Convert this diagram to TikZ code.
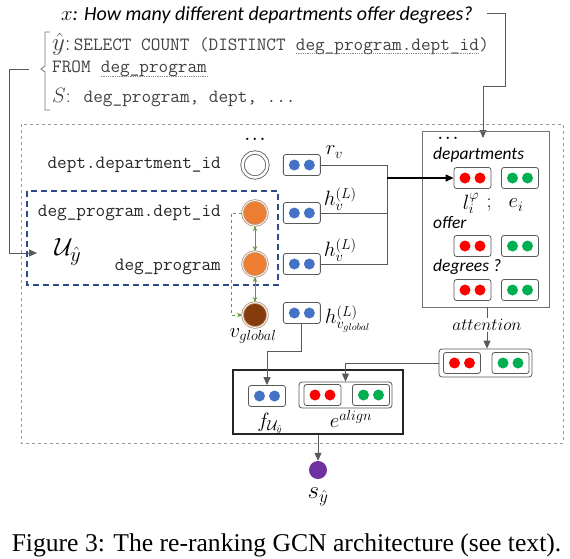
\documentclass[tikz,border=0pt]{standalone}
\usepackage{fontspec}
\newfontfamily\calibfont{Carlito}
\newfontfamily\figfont{Liberation Serif}
\usetikzlibrary{positioning,arrows.meta}
\definecolor{vblue}{HTML}{4472C4}
\definecolor{vred}{HTML}{FF0000}
\definecolor{vgreen}{HTML}{00B050}
\definecolor{vorange}{HTML}{ED7D31}
\definecolor{vbrown}{HTML}{843C0C}
\definecolor{vpurple}{HTML}{7030A0}
\definecolor{dkblue}{HTML}{2F4A8A}
\definecolor{ggreen}{HTML}{5E9A35}
\definecolor{ringcol}{HTML}{BF9A80}
\begin{document}
\begin{tikzpicture}[x=1pt, y=-1pt, >={Triangle[length=8pt,width=7pt]},
  sql/.style={font=\ttfamily\fontsize{18.7}{21}\selectfont, inner sep=1pt},
  mlab/.style={font=\fontsize{20}{24}\selectfont, inner sep=1pt},
  wlab/.style={font=\calibfont\itshape\fontsize{17.5}{20}\selectfont, inner sep=1pt},
  gnode/.style={circle, minimum size=25pt, inner sep=0, line width=0.9pt},
  vbox/.style={draw=black!65, fill=white, rounded corners=2.5pt, minimum width=37pt, minimum height=21pt, inner sep=0, line width=0.8pt},
  pbox/.style={draw=black!65, fill=white, rounded corners=3pt, minimum width=93pt, minimum height=28pt, inner sep=0, line width=0.8pt},
  dot/.style={circle, minimum size=11pt, inner sep=0},
  dotul/.style={draw=black!45, dash pattern=on 1pt off 0.8pt, line width=0.7pt},
  conn/.style={draw=black!65, line width=0.8pt},
  garrow/.style={draw=ggreen, line width=0.9pt}]
\useasboundingbox (0,0) rectangle (570,558);
% query, candidate and its schema
\node[anchor=west, font=\calibfont\itshape\fontsize{20}{24}\selectfont, inner sep=0] (question) at (61,15) {{\fontsize{22}{26}\selectfont$x$}: How many different departments offer degrees?};
\node[anchor=west, sql, text=black!75] (yline) at (51,44) {{\rmfamily\fontsize{23}{26}\selectfont$\hat{y}$:}\,SELECT COUNT (DISTINCT};
\node[anchor=base west, sql, inner sep=0, text=black!75] (ycol) at ([xshift=8.8pt]yline.base east) {deg\_program.dept\_id};
\node[anchor=base west, sql, inner sep=0, text=black!75] (yend) at (ycol.base east) {)};
\draw[dotul] ([yshift=-3.5pt]ycol.base west) -- ([yshift=-3.5pt]ycol.base east);
\node[anchor=west, sql, text=black!75] (fline) at (51,67) {FROM};
\node[anchor=base west, sql, inner sep=0, text=black!75] (fcol) at ([xshift=8.8pt]fline.base east) {deg\_program};
\draw[dotul] ([yshift=-3.5pt]fcol.base west) -- ([yshift=-3.5pt]fcol.base east);
\node[anchor=west, sql, text=black!75] (sline) at (51,98) {{\rmfamily\fontsize{20}{24}\selectfont$S$:} deg\_program, dept, ...};
\draw[draw=black!55, line width=0.8pt] (50,32) -- (45,32) -- (45,66) -- (41,69) -- (45,72) -- (45,110) -- (50,110);
\coordinate (ytail) at (29,69);
\coordinate (uin) at (37,253);
\draw[conn, ->] (ytail) -- (9,69) |- (uin);
\coordinate (qtail) at (487,13);
\coordinate (qturn) at (505,86);
\coordinate (qin) at (483,138);
\draw[conn, ->] (qtail) -| (qturn) -| (qin);
% frames
\draw[gray!80, dashed, line width=0.8pt] (21,124) rectangle (563,443);
\draw[dkblue, dash pattern=on 6pt off 4pt, line width=1.6pt] (27,191) rectangle (278,285);
% graph nodes
\node[font=\bfseries\fontsize{16}{18}\selectfont] (sdots) at (255,139) {.\,.\,.};
\node[gnode, draw=black!60, double=white, double distance=2.5pt, fill=white] (cdept) at (255,165) {};
\node[gnode, fill=vorange, draw=ringcol, double=white, double distance=0.8pt] (cid) at (255,213) {};
\node[gnode, fill=vorange, draw=ringcol, double=white, double distance=0.8pt] (ctab) at (255,264) {};
\node[gnode, fill=vbrown, draw=ringcol, double=white, double distance=0.8pt] (cglob) at (255,315) {};
\node[sql, left=20pt of cdept, text=black!85] (ldept) {dept.department\_id};
\node[sql, left=20pt of cid, text=black!85] (lid) {deg\_program.dept\_id};
\node[sql, left=20pt of ctab, yshift=-3pt, text=black!85] (ltab) {deg\_program};
\node[font=\fontsize{28}{32}\selectfont] (uy) at (68,252) {$\mathcal{U}_{\hat{y}}$};
\node[mlab] (lglob) at (253,336) {$v_{global}$};
\draw[garrow, {Stealth[length=5pt,width=4.5pt]}-{Stealth[length=5pt,width=4.5pt]}] (cid) -- (ctab);
\draw[garrow, {Stealth[length=5pt,width=4.5pt]}-{Stealth[length=5pt,width=4.5pt]}] (ctab) -- (cglob);
\draw[garrow, dashed, -{Stealth[length=5pt,width=4.5pt]}] (cid.west) -- ++(-11,0) |- (cglob.west);
% node vectors
\node[vbox, right=15pt of cdept] (vb1) {};
\node[dot, fill=vblue] (vb1a) at ([xshift=-7.5pt]vb1.center) {};
\node[dot, fill=vblue] (vb1b) at ([xshift=7.5pt]vb1.center) {};
\node[vbox, right=15pt of cid] (vb2) {};
\node[dot, fill=vblue] (vb2a) at ([xshift=-7.5pt]vb2.center) {};
\node[dot, fill=vblue] (vb2b) at ([xshift=7.5pt]vb2.center) {};
\node[vbox, right=15pt of ctab] (vb3) {};
\node[dot, fill=vblue] (vb3a) at ([xshift=-7.5pt]vb3.center) {};
\node[dot, fill=vblue] (vb3b) at ([xshift=7.5pt]vb3.center) {};
\node[vbox, right=15pt of cglob, yshift=2pt] (vb4) {};
\node[dot, fill=vblue] (vb4a) at ([xshift=-7.5pt]vb4.center) {};
\node[dot, fill=vblue] (vb4b) at ([xshift=7.5pt]vb4.center) {};
\node[mlab, anchor=west] (lr) at ([xshift=4pt,yshift=13pt]vb1.east) {$r_v$};
\node[mlab, anchor=west] (lh1) at ([xshift=2pt,yshift=14pt]vb2.east) {$h_v^{(L)}$};
\node[mlab, anchor=west] (lh2) at ([xshift=2pt,yshift=14pt]vb3.east) {$h_v^{(L)}$};
\node[mlab, anchor=west] (lh3) at ([xshift=3pt,yshift=-6pt]vb4.east) {$h_{v_{global}}^{(L)}$};
% question tokens
\node[draw=black!55, line width=0.8pt, minimum width=127pt, minimum height=176pt, inner sep=0] (dbox) at (485.5,219) {};
\node[font=\bfseries\fontsize{16}{18}\selectfont] (ddots) at (448,138) {.\,.\,.};
\node[wlab, anchor=west] (wdep) at (432,155) {departments};
\node[vbox] (r1) at (472.5,178) {};
\node[dot, fill=vred] (r1a) at ([xshift=-7.5pt]r1.center) {};
\node[dot, fill=vred] (r1b) at ([xshift=7.5pt]r1.center) {};
\node[vbox] (g1) at (520,178) {};
\node[dot, fill=vgreen] (g1a) at ([xshift=-7.5pt]g1.center) {};
\node[dot, fill=vgreen] (g1b) at ([xshift=7.5pt]g1.center) {};
\node[mlab] (lphi) at (471,203) {$l_i^{\varphi}$};
\node[mlab] (lsemi) at (489,205) {;};
\node[mlab] (lei) at (516,205) {$e_i$};
\node[wlab, anchor=west] (woff) at (432,223) {offer};
\node[vbox] (r2) at (472.5,246) {};
\node[dot, fill=vred] (r2a) at ([xshift=-7.5pt]r2.center) {};
\node[dot, fill=vred] (r2b) at ([xshift=7.5pt]r2.center) {};
\node[vbox] (g2) at (520,246) {};
\node[dot, fill=vgreen] (g2a) at ([xshift=-7.5pt]g2.center) {};
\node[dot, fill=vgreen] (g2b) at ([xshift=7.5pt]g2.center) {};
\node[wlab, anchor=west] (wdeg) at (432,267) {degrees ?};
\node[vbox] (r3) at (472.5,290) {};
\node[dot, fill=vred] (r3a) at ([xshift=-7.5pt]r3.center) {};
\node[dot, fill=vred] (r3b) at ([xshift=7.5pt]r3.center) {};
\node[vbox] (g3) at (520,290) {};
\node[dot, fill=vgreen] (g3a) at ([xshift=-7.5pt]g3.center) {};
\node[dot, fill=vgreen] (g3b) at ([xshift=7.5pt]g3.center) {};
\coordinate (jn) at (387,178);
\draw[conn] (vb1.east) -- (vb1.east -| jn) -- (vb3.east -| jn) -- (vb3.east);
\draw[conn] (vb2.east) -- (vb2.east -| jn);
\draw[->, draw=black, line width=1.1pt] (jn) -- (r1.west);
% attention
\node[font=\fontsize{18}{22}\selectfont, inner sep=1pt] (attn) at (487,325) {$attention$};
\draw[conn] (dbox.south -| attn) -- (attn.north);
\node[pbox] (apair) at (485.5,363) {};
\node[vbox] (ar) at (462,363) {};
\node[dot, fill=vred] (ara) at ([xshift=-7.5pt]ar.center) {};
\node[dot, fill=vred] (arb) at ([xshift=7.5pt]ar.center) {};
\node[vbox] (ag) at (510.5,363) {};
\node[dot, fill=vgreen] (aga) at ([xshift=-7.5pt]ag.center) {};
\node[dot, fill=vgreen] (agb) at ([xshift=7.5pt]ag.center) {};
\draw[conn, ->] (attn.south) -- (attn.south |- apair.north);
% scoring input
\node[draw=black!85, line width=1.3pt, minimum width=170pt, minimum height=64pt, inner sep=0] (fbox) at (318,402) {};
\node[vbox] (fu) at (267,396) {};
\node[dot, fill=vblue] (fua) at ([xshift=-7.5pt]fu.center) {};
\node[dot, fill=vblue] (fub) at ([xshift=7.5pt]fu.center) {};
\node[pbox, minimum height=26pt] (epair) at (345.5,395) {};
\node[vbox] (er) at (322.5,395) {};
\node[dot, fill=vred] (era) at ([xshift=-7.5pt]er.center) {};
\node[dot, fill=vred] (erb) at ([xshift=7.5pt]er.center) {};
\node[vbox] (eg) at (371,395) {};
\node[dot, fill=vgreen] (ega) at ([xshift=-7.5pt]eg.center) {};
\node[dot, fill=vgreen] (egb) at ([xshift=7.5pt]eg.center) {};
\node[mlab] (lfu) at (270,424) {$f_{\mathcal{U}_{\hat{y}}}$};
\node[mlab] (lal) at (351,419) {$e^{align}$};
\draw[conn, ->] (vb4.south) -- ++(0,27) -| (fu.north);
\draw[conn, ->] (apair.west) -| (epair.north);
\node[circle, fill=vpurple, minimum size=18pt, inner sep=0] (sy) at (318,470) {};
\node[font=\fontsize{24}{28}\selectfont] (lsy) at (318,497) {$s_{\hat{y}}$};
\draw[conn, ->] (fbox.south) -- (sy.north);
% caption
\node[font=\figfont\fontsize{25.6}{30}\selectfont, anchor=base, inner sep=0] (cap) at (286.5,551) {Figure 3: The re-ranking GCN architecture (see text).};
\end{tikzpicture}
\end{document}
